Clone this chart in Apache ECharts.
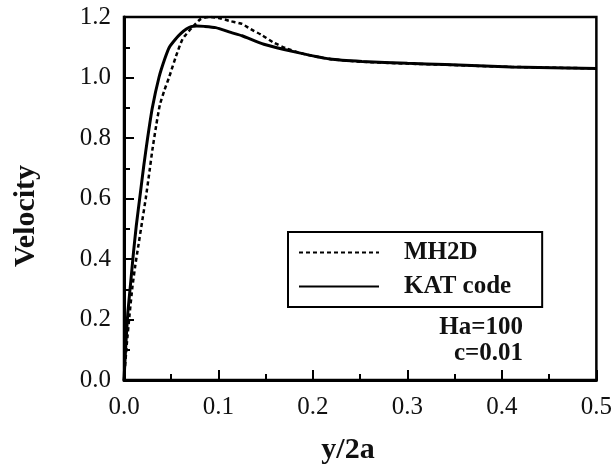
<!DOCTYPE html>
<html>
<head>
<meta charset="utf-8">
<script src="https://cdn.jsdelivr.net/npm/echarts@6/dist/echarts.min.js"></script>
<style>html,body{margin:0;padding:0;background:#fff;}#c{width:615px;height:470px;}</style>
</head>
<body>
<div id="c"></div>
<script>
var xTicks = [0.0, 0.1, 0.2, 0.3, 0.4, 0.5];
var yTicks = [0.0, 0.2, 0.4, 0.6, 0.8, 1.0, 1.2];
var seriesNames = ['MH2D', 'KAT code'];
var katX = [0, 0.002, 0.004, 0.007, 0.010, 0.013, 0.017, 0.021, 0.025, 0.030, 0.037, 0.043, 0.048, 0.054, 0.060, 0.066, 0.071, 0.077, 0.085, 0.097, 0.113, 0.125, 0.148, 0.183, 0.218, 0.252, 0.30, 0.34, 0.41, 0.50];
var katY = [0, 0.12, 0.22, 0.32, 0.42, 0.51, 0.61, 0.71, 0.80, 0.90, 1.00, 1.06, 1.10, 1.125, 1.145, 1.16, 1.168, 1.17, 1.169, 1.165, 1.149, 1.138, 1.11, 1.083, 1.061, 1.053, 1.047, 1.043, 1.035, 1.03];
var mhX = [0, 0.003, 0.006, 0.009, 0.012, 0.015, 0.019, 0.023, 0.027, 0.030, 0.034, 0.038, 0.043, 0.048, 0.055, 0.062, 0.072, 0.081, 0.090, 0.100, 0.113, 0.125, 0.134, 0.146, 0.158, 0.172, 0.190, 0.218, 0.252, 0.30, 0.34, 0.41, 0.50];
var mhY = [0, 0.12, 0.22, 0.31, 0.38, 0.44, 0.52, 0.60, 0.69, 0.76, 0.84, 0.91, 0.96, 1.003, 1.07, 1.127, 1.165, 1.193, 1.20, 1.197, 1.186, 1.177, 1.16, 1.14, 1.116, 1.096, 1.078, 1.061, 1.052, 1.046, 1.042, 1.035, 1.03];
var annotations = ['Ha=100', 'c=0.01'];

function pairs(xs, ys) { return xs.map(function (x, i) { return [x, ys[i]]; }); }

var FONT = '"Liberation Serif", "Times New Roman", serif';
var chart = echarts.init(document.getElementById('c'));
chart.setOption({
  animation: false,
  backgroundColor: '#fff',
  color: ['#000', '#000'],
  grid: { left: 124, right: 16, top: 17, bottom: 90, show: true, borderColor: '#000', borderWidth: 2.5, backgroundColor: 'transparent' },
  xAxis: {
    type: 'value', min: xTicks[0], max: xTicks[xTicks.length - 1], interval: 0.1,
    axisLine: { lineStyle: { color: '#000', width: 3 } },
    axisTick: { inside: true, length: 10, lineStyle: { color: '#000', width: 2 } },
    minorTick: { show: true, splitNumber: 2, length: 6, lineStyle: { color: '#000', width: 2 } },
    splitLine: { show: false },
    axisLabel: { color: '#111', fontFamily: FONT, fontSize: 25, margin: 15, formatter: function (v) { return v.toFixed(1); } }
  },
  yAxis: {
    type: 'value', min: yTicks[0], max: yTicks[yTicks.length - 1], interval: 0.2,
    axisLine: { lineStyle: { color: '#000', width: 3 } },
    axisTick: { inside: true, length: 10, lineStyle: { color: '#000', width: 2 } },
    minorTick: { show: true, splitNumber: 2, length: 6, lineStyle: { color: '#000', width: 2 } },
    splitLine: { show: false },
    axisLabel: { color: '#111', fontFamily: FONT, fontSize: 25, margin: 13, formatter: function (v) { return v.toFixed(1); } }
  },
  legend: {
    left: 288, top: 232, orient: 'vertical',
    borderColor: '#000', borderWidth: 2, padding: [8, 31, 8, 10],
    itemWidth: 80, itemHeight: 12, itemGap: 9,
    itemStyle: { opacity: 0 },
    textStyle: { fontFamily: FONT, fontSize: 25, fontWeight: 'bold', color: '#111', padding: [0, 0, 0, 20] },
    data: seriesNames
  },
  series: [
    { name: seriesNames[0], type: 'line', data: pairs(mhX, mhY), symbol: 'none', smooth: 0.2,
      lineStyle: { color: '#000', width: 2.5, type: [4, 3] } },
    { name: seriesNames[1], type: 'line', data: pairs(katX, katY), symbol: 'none', smooth: 0.2,
      lineStyle: { color: '#000', width: 3, type: 'solid' } }
  ],
  graphic: [
    { type: 'text', x: 26, y: 216, rotation: Math.PI / 2,
      style: { text: 'Velocity', font: 'bold 30px ' + FONT, fill: '#111', textAlign: 'center', textVerticalAlign: 'middle' } },
    { type: 'text', x: 348, y: 450,
      style: { text: 'y/2a', font: 'bold 30px ' + FONT, fill: '#111', textAlign: 'center', textVerticalAlign: 'middle' } },
    { type: 'text', x: 523, y: 328,
      style: { text: annotations[0], font: 'bold 25px ' + FONT, fill: '#111', textAlign: 'right', textVerticalAlign: 'middle' } },
    { type: 'text', x: 523, y: 354,
      style: { text: annotations[1], font: 'bold 25px ' + FONT, fill: '#111', textAlign: 'right', textVerticalAlign: 'middle' } }
  ]
});
</script>
</body>
</html>
